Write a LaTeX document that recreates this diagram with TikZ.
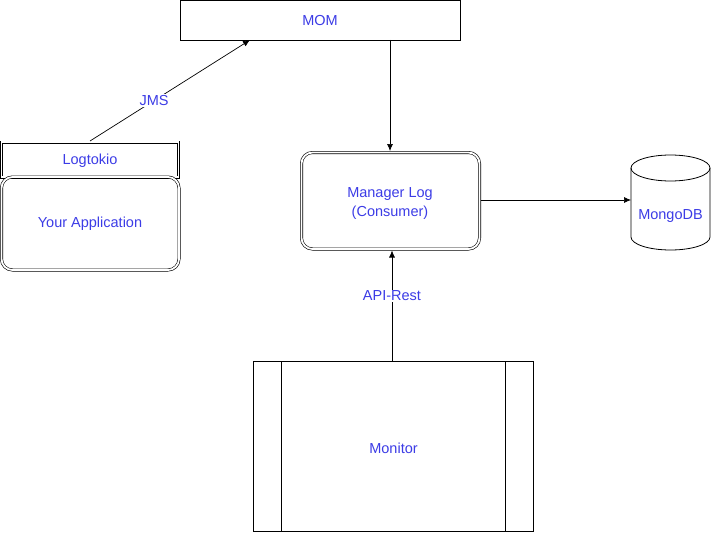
\documentclass[tikz,border=0pt]{standalone}
\usepackage{fontspec}
\setmainfont{Liberation Sans}
\usetikzlibrary{shapes.geometric,arrows.meta}
\definecolor{txtblue}{RGB}{60,60,230}
\begin{document}
\begin{tikzpicture}[x=1pt,y=-1pt,
  lbl/.style={text=txtblue,font=\fontsize{14.5}{19}\selectfont,align=center},
  plainbox/.style={draw,line width=0.8pt,fill=white},
  dblbox/.style={draw,line width=0.6pt,double,double distance=1.8pt},
  conn/.style={-{Latex[length=7pt,width=6pt]},line width=0.7pt},
  edgelbl/.style={lbl,fill=white,inner sep=1pt}]
\useasboundingbox (0,0) rectangle (711,532);
% MOM
\draw[plainbox] (180.5,0.5) rectangle (460,40);
\node[lbl] (momt) at (320,21) {MOM};
\coordinate (momtop) at (250,40);
\coordinate (mombot) at (390,40);
% Logtokio
\draw[dblbox] (1.5,142) rectangle (178.5,177);
\node[lbl] (logt) at (90,161) {Logtokio};
\coordinate (logtop) at (90,141);
% Your Application
\draw[dblbox,rounded corners=11pt] (1.5,177) rectangle (179,270);
\node[lbl] (app) at (90,223.5) {Your Application};
% Manager Log
\draw[dblbox,rounded corners=11pt] (301.5,152.5) rectangle (479.5,249);
\node[lbl] (mgr) at (390,203.5) {Manager Log\\(Consumer)};
\coordinate (mgrtop) at (390,151);
\coordinate (mgrbot) at (392,250.5);
\coordinate (mgrright) at (481,200);
% MongoDB cylinder
\draw[line width=0.8pt,fill=white] (631,168) -- (631,237) arc[start angle=180,end angle=0,x radius=39.5,y radius=13] -- (710,168) arc[start angle=0,end angle=-180,x radius=39.5,y radius=13] -- cycle;
\draw[line width=0.8pt] (631,168) arc[start angle=180,end angle=0,x radius=39.5,y radius=13];
\node[lbl] (mongo) at (670.5,216) {MongoDB};
\coordinate (mongoleft) at (631,200);
% Monitor
\draw[plainbox] (253.5,361.5) rectangle (533.5,531);
\draw[line width=0.8pt] (281.5,361.5) -- (281.5,531);
\draw[line width=0.8pt] (505.5,361.5) -- (505.5,531);
\node[lbl] (mon) at (393.5,448) {Monitor};
\coordinate (montop) at (392,361);
% Connectors
\draw[conn] (logtop) -- node[edgelbl,pos=0.4] (jms) {JMS} (momtop);
\draw[conn] (mombot) -- (mgrtop);
\draw[conn] (mgrright) -- (mongoleft);
\draw[conn] (montop) -- node[edgelbl,pos=0.59] (api) {API-Rest} (mgrbot);
\end{tikzpicture}
\end{document}
